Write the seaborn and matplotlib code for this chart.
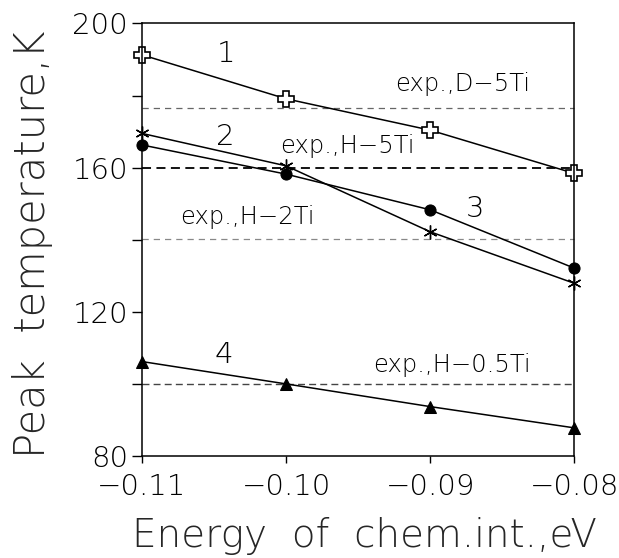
import numpy as np
import pandas as pd
import matplotlib
matplotlib.use("Agg")
import matplotlib.pyplot as plt
import seaborn as sns

# data
energy = [-0.11, -0.10, -0.09, -0.08]
curve1 = [191.3, 179.1, 170.4, 158.4]   # open plus
curve2 = [166.3, 158.2, 148.3, 132.1]   # filled circle
curve3 = [169.5, 160.5, 142.2, 127.9]   # asterisk
curve4 = [106.2, 100.0, 93.7, 87.8]     # triangle

exp_levels = [176.5, 160.0, 140.2, 100.0]
exp_labels = ["exp.,D\u22125Ti", "exp.,H\u22125Ti", "exp.,H\u22122Ti", "exp.,H\u22120.5Ti"]
exp_pos = [(-0.09245, 181.3), (-0.10043, 164.1), (-0.10736, 144.3), (-0.09398, 103.4)]

curve_names = ["1", "2", "3", "4"]
name_pos = [(-0.1042, 189.2), (-0.1042, 166.2), (-0.0869, 146.3), (-0.1043, 105.7)]

sns.set_style("ticks")
plt.rcParams['font.family'] = ['DejaVu Sans']
plt.rcParams['font.weight'] = 'light'

fig = plt.figure(figsize=(6.19, 5.58), dpi=100)
ax = fig.add_axes([0.2294, 0.1828, 0.6986, 0.7751])

# experimental reference levels
styles = [dict(color='#666666', lw=0.9, dashes=(5, 4)),
          dict(color='black', lw=1.3, dashes=(5, 3)),
          dict(color='#888888', lw=0.9, dashes=(5, 4)),
          dict(color='#444444', lw=1.0, dashes=(5, 3))]
for lev, st in zip(exp_levels, styles):
    ax.plot([-0.11, -0.08], [lev, lev], **st, zorder=1)

sns.lineplot(x=energy, y=curve1, ax=ax, color='black', lw=1.1, marker='P',
             markersize=11, markerfacecolor='white', markeredgecolor='black', markeredgewidth=1.2)
sns.lineplot(x=energy, y=curve2, ax=ax, color='black', lw=1.1, marker='o',
             markersize=8, markerfacecolor='black', markeredgecolor='black')
sns.lineplot(x=energy, y=curve3, ax=ax, color='black', lw=1.1, marker=(6, 2, 0),
             markersize=10, markeredgecolor='black', markeredgewidth=1.0)
sns.lineplot(x=energy, y=curve4, ax=ax, color='black', lw=1.1, marker='^',
             markersize=9, markerfacecolor='black', markeredgecolor='black')

for c in ax.lines:
    c.set_clip_on(False)

for lab, (x, y) in zip(exp_labels, exp_pos):
    ax.text(x, y, lab, fontsize=17.5, fontweight='light', color='black', va='baseline')

for lab, (x, y) in zip(curve_names, name_pos):
    ax.text(x, y, lab, fontsize=21, fontweight='light', color='black', ha='center', va='baseline')

ax.set_xlim(-0.11, -0.08)
ax.set_ylim(80, 200)
ax.set_xticks([-0.11, -0.10, -0.09, -0.08])
ax.set_xticklabels(["\u22120.11", "\u22120.10", "\u22120.09", "\u22120.08"])
ax.set_yticks([80, 100, 120, 140, 160, 180, 200])
ax.set_yticklabels(["80", "", "120", "", "160", "", "200"])
ax.tick_params(axis='x', direction='out', length=5, width=1, labelsize=21, pad=7, colors='black')
ax.tick_params(axis='y', direction='out', length=7, width=1, labelsize=21, pad=3, colors='black')
for s in ax.spines.values():
    s.set_color('black')
    s.set_linewidth(1.1)

ax.set_xlabel("Energy  of  chem.int.,eV", fontsize=28, fontweight='light')
ax.set_ylabel("Peak  temperature,K", fontsize=30, fontweight='light')
ax.xaxis.set_label_coords(0.515, -0.14)
ax.yaxis.set_label_coords(-0.205, 0.49)

fig.savefig("out.png", dpi=100)
